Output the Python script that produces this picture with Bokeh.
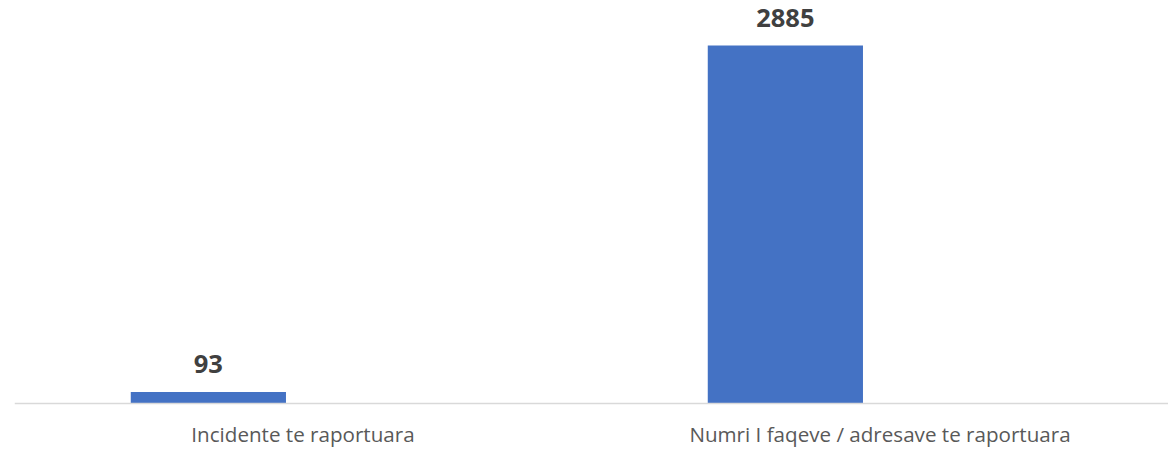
from bokeh.plotting import figure
from bokeh.models import ColumnDataSource, Range1d, FactorRange, Span
from bokeh.transform import dodge
from bokeh.core.properties import value
from bokeh.embed import file_html
from bokeh.resources import INLINE

categories = ["Incidente te raportuara", "Numri I faqeve / adresave te raportuara"]
values = [93, 2885]
labels = ["93", "2885"]

src = ColumnDataSource(dict(cat=categories, val=values, lab=labels, zero=[0, 0]))

p = figure(
    x_range=FactorRange(*categories, range_padding=0),
    y_range=Range1d(-371, 3248),
    width=1168, height=449,
    output_backend="svg", toolbar_location=None,
    min_border_left=14, min_border_right=0, min_border_top=0, min_border_bottom=0,
)
p.axis.visible = False
p.xgrid.grid_line_color = None
p.ygrid.grid_line_color = None
p.outline_line_color = None

offset = -0.164
p.vbar(x=dodge("cat", offset, range=p.x_range), top="val", bottom=0, width=0.269,
       source=src, fill_color="#4472C4", line_color=None)

p.add_layout(Span(location=0, dimension="width", line_color="#d9d9d9", line_width=1.5))

p.text(x=dodge("cat", offset, range=p.x_range), y="val", text="lab", source=src,
       text_align="center", text_baseline="alphabetic", y_offset=-28,
       text_font=value("Open Sans"), text_font_style="bold",
       text_font_size="25.5px", text_color="#404040")

p.text(x="cat", y="zero", text="cat", source=src,
       text_align="center", text_baseline="alphabetic", y_offset=31,
       text_font=value("Open Sans"), text_font_size="20.6px", text_color="#595959")

open("out.html", "w").write(file_html(p, INLINE))
